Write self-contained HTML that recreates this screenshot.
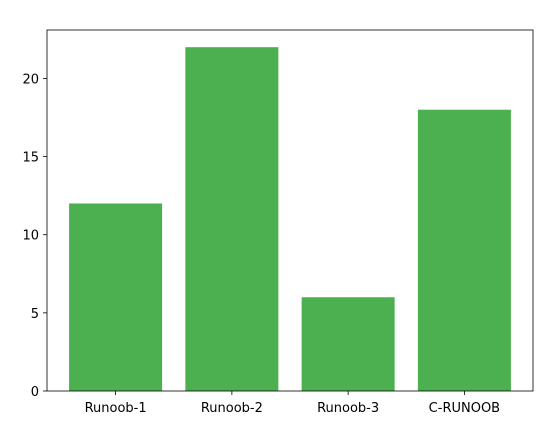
<!DOCTYPE html>
<html><head><meta charset="utf-8"><style>
body{margin:0;background:#fff;}
svg{display:block;font-family:"DejaVu Sans","Liberation Sans",sans-serif;}
</style></head><body>
<svg id="chart" width="555" height="432"></svg>
<script>
const categories = ["Runoob-1","Runoob-2","Runoob-3","C-RUNOOB"];
const values = [12,22,6,18];
const yTicks = [0,5,10,15,20];
const L=47,R=533,T=30,B=391;
const yMax=23.1, xMin=-0.59, xMax=3.59;
const sx=v=>L+(v-xMin)/(xMax-xMin)*(R-L);
const sy=v=>B-v/yMax*(B-T);
const svg=document.getElementById('chart');
const NS='http://www.w3.org/2000/svg';
function mk(tag,attrs){const e=document.createElementNS(NS,tag);for(const k in attrs)e.setAttribute(k,attrs[k]);svg.appendChild(e);return e;}
values.forEach((v,i)=>{
  const r=mk('rect',{x:sx(i-0.4),y:sy(v),width:sx(i+0.4)-sx(i-0.4),height:sy(0)-sy(v),fill:'#4CAF50'});
  
  
  const t=mk('line',{x1:sx(i),x2:sx(i),y1:B,y2:B+4,stroke:'#000','stroke-width':0.8});
  
  
  const lb=mk('text',{x:sx(i),y:B+21,'text-anchor':'middle','font-size':13,fill:'#000'});
  lb.textContent=categories[i];
  
  
});
yTicks.forEach(v=>{
  const t=mk('line',{x1:L-4,x2:L,y1:sy(v),y2:sy(v),stroke:'#000','stroke-width':0.8});
  
  
  const lb=mk('text',{x:L-8,y:sy(v)+5,'text-anchor':'end','font-size':13,fill:'#000'});
  lb.textContent=v;
  
  
});
const f=mk('rect',{x:L,y:T,width:R-L,height:B-T,fill:'none',stroke:'#000','stroke-width':0.8});


</script>
</body></html>
